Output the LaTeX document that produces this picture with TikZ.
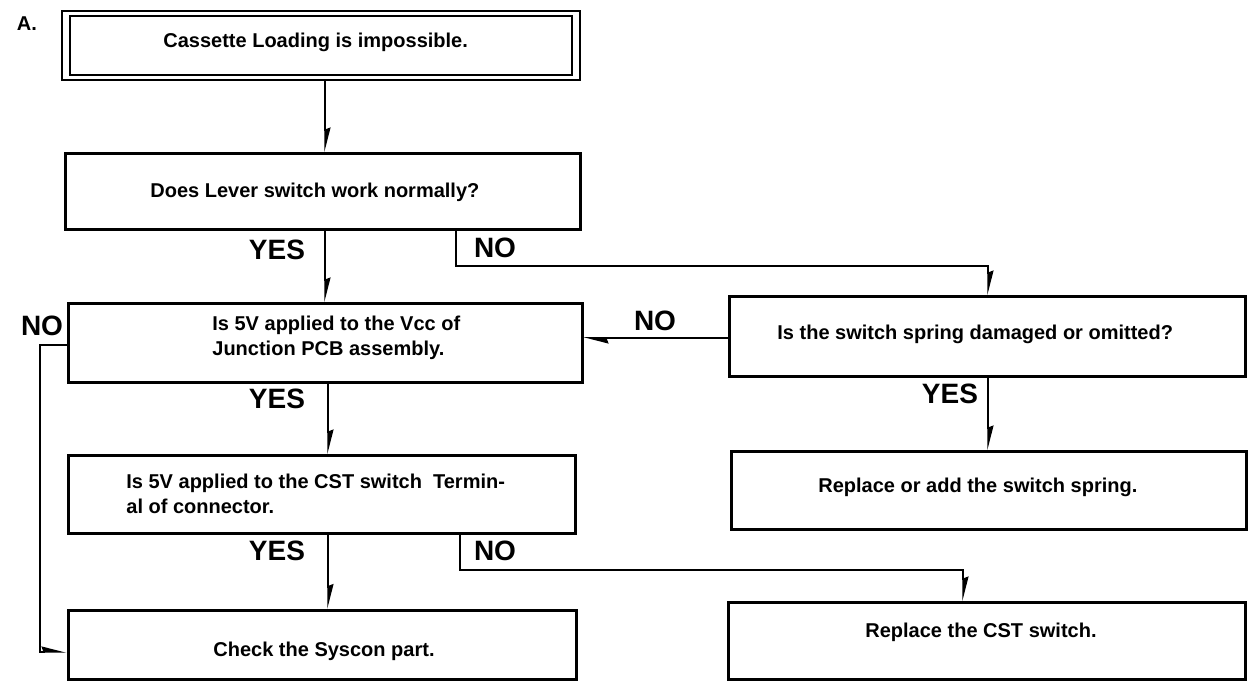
\documentclass[tikz,border=0pt]{standalone}
\usepackage{fontspec}
\setmainfont{Liberation Sans}
\usetikzlibrary{arrows.meta,calc}
\begin{document}
\begin{tikzpicture}[x=0.5pt,y=-0.5pt,
  box/.style={draw, line width=1.5pt, inner sep=0pt},
  txt/.style={font=\fontsize{10}{12.5}\selectfont\bfseries, inner sep=0pt},
  lab/.style={font=\fontsize{14}{16}\selectfont\bfseries, inner sep=0pt},
  conn/.style={line width=0.75pt},
  arr/.style={conn, -{Stealth[harpoon,length=11pt,width=5.5pt,inset=1pt]}}]
\useasboundingbox (0,0) rectangle (1248,683);
% boxes
\node[box, line width=1pt, minimum width=259pt, minimum height=34.5pt] (top) at (321,45.5) {};
\draw[line width=1pt] ([shift={(9,6)}]top.north west) rectangle ([shift={(-9,-6)}]top.south east);
\node[box, minimum width=257.5pt, minimum height=38pt] (b2) at (322.5,192) {};
\node[box, minimum width=257pt, minimum height=39.5pt] (b3) at (325,343.5) {};
\node[box, minimum width=253.5pt, minimum height=39pt] (b4) at (321.5,495) {};
\node[box, minimum width=254pt, minimum height=34.5pt] (b5) at (322,645) {};
\node[box, minimum width=258pt, minimum height=40pt] (r1) at (987,337) {};
\node[box, minimum width=257.5pt, minimum height=39pt] (r2) at (988.5,491) {};
\node[box, minimum width=258.5pt, minimum height=38.5pt] (r3) at (987,641.5) {};
% texts
\node[txt] (A) at (27,24) {A.};
\node[txt, anchor=base west] (t0) at (163,48) {Cassette Loading is impossible.};
\node[txt, anchor=base west] (t2) at (150,198) {Does Lever switch work normally?};
\node[txt, anchor=north west, align=left] (t3) at (212,316) {Is 5V applied to the Vcc of\\Junction PCB assembly.};
\node[txt, anchor=north west, align=left] (t4) at (126,474) {Is 5V applied to the CST switch\ \ Termin-\\al of connector.};
\node[txt, anchor=base west] (t5) at (213,657) {Check the Syscon part.};
\node[txt, anchor=base west] (tr1) at (777,340) {Is the switch spring damaged or omitted?};
\node[txt, anchor=base west] (tr2) at (818,493) {Replace or add the switch spring.};
\node[txt, anchor=base west] (tr3) at (865,638) {Replace the CST switch.};
% labels
\node[lab] (y1) at (277,250) {YES};
\node[lab] (y2) at (277,399) {YES};
\node[lab] (y3) at (277,551) {YES};
\node[lab] (y4) at (950,394) {YES};
\node[lab] (n1) at (495,248) {NO};
\node[lab] (n2) at (42,326) {NO};
\node[lab] (n3) at (655,321) {NO};
\node[lab] (n4) at (495,551) {NO};
% helper coordinates
\coordinate (v1) at (325,0);
\coordinate (v2) at (328,0);
\coordinate (v3) at (456,266);
\coordinate (v4) at (988,0);
\coordinate (v5) at (460,570);
\coordinate (v6) at (963,0);
\coordinate (v7) at (40,0);
\coordinate (h1) at (0,338);
\coordinate (h2) at (0,345);
\coordinate (h3) at (0,652);
% connectors
\draw[arr] (top.south -| v1) -- (b2.north -| v1);
\draw[arr] (b2.south -| v1) -- (b3.north -| v1);
\draw[arr] (b2.south -| v3) -- (v3) -| (r1.north -| v4);
\draw[arr] (r1.west |- h1) -- (b3.east |- h1);
\draw[arr] (b3.west |- h2) -| (v7 |- h3) -- (b5.west |- h3);
\draw[arr] (b3.south -| v2) -- (b4.north -| v2);
\draw[arr] (b4.south -| v2) -- (b5.north -| v2);
\draw[arr] (b4.south -| v5) -- (v5) -| (r3.north -| v6);
\draw[arr] (r1.south -| v4) -- (r2.north -| v4);
\end{tikzpicture}
\end{document}
